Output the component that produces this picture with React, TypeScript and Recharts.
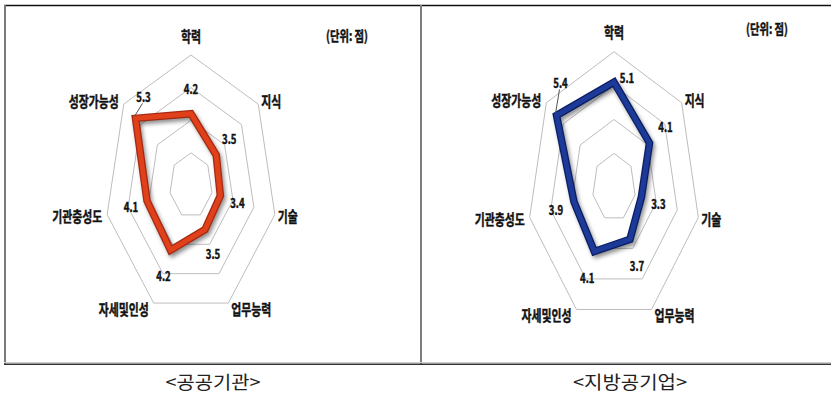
import React from 'react';
import { RadarChart, Radar, PolarAngleAxis, PolarRadiusAxis } from 'recharts';

// Competency categories, clockwise from the top
const categories = ['학력', '지식', '기술', '업무능력', '자세및인성', '기관충성도', '성장가능성'];

// Scores per organisation type
const publicScores = [4.2, 3.5, 3.4, 3.5, 4.2, 4.1, 5.3];
const localScores = [5.1, 4.1, 3.3, 3.7, 4.1, 3.9, 5.4];

// Radial scale and its grid rings
const scoreDomain: [number, number] = [2, 6];
const gridLevels = [3, 4, 5, 6];

const unitLabel = '(단위: 점)';
const captions = ['<공공기관>', '<지방공기업>'];

// Value-label nudges (px) from each vertex; the last one hangs on a leader line
const publicLabelNudge: [number, number][] = [[0, -25], [13, -16], [17, 7], [8, 24], [-7, 25], [-16, 6], [8, -22]];
const localLabelNudge: [number, number][] = [[13, -5], [16, -16], [17, 6], [7, 26], [-7, 26], [-18, 8], [4, -33]];
const leaderIndex = 6;

const KR = "'Noto Sans CJK KR', 'Noto Sans', sans-serif";

type Cfg = {
  id: string;
  left: number;
  width: number;
  cx: number;
  cy: number;
  R: number;
  k: number; // horizontal squeeze of the polar plane
  color: string;
  edge: string;
  nudge: [number, number][];
  unitX: number;
  unitY: number;
};

const panels: Cfg[] = [
  {
    id: 'pub', left: 0, width: 420, cx: 191, cy: 185.5, R: 130.5, k: 86 / 130.5,
    color: '#E0401A', edge: '#A52810', nudge: publicLabelNudge, unitX: 347, unitY: 35,
  },
  {
    id: 'loc', left: 421, width: 410, cx: 193, cy: 187.3, R: 135.6, k: 86.5 / 135.6,
    color: '#1D3A98', edge: '#0A1D63', nudge: localLabelNudge, unitX: 346, unitY: 28,
  },
];

const buildRows = (scores: number[]) =>
  categories.map((axis, i) => {
    const row: Record<string, string | number> = { axis, score: scores[i] };
    gridLevels.forEach((lv) => {
      row[`g${lv}`] = lv;
    });
    return row;
  });

const squeeze = (x: number, cx: number, k: number) => cx + (x - cx) * k;

const ringShape = (cfg: Cfg) => (props: any) => {
  const pts = (props.points || [])
    .map((p: any) => `${squeeze(p.x, p.cx ?? cfg.cx, cfg.k)},${p.y}`)
    .join(' ');
  return <polygon points={pts} fill="none" stroke="#bdbdbd" strokeWidth={1} />;
};

const boldText = { fill: '#111', stroke: '#111', strokeWidth: 0.45, paintOrder: 'stroke' } as const;

const scoreShape = (cfg: Cfg) => (props: any) => {
  const raw = props.points || [];
  const pts = raw.map((p: any) => ({
    x: squeeze(p.x, p.cx ?? cfg.cx, cfg.k),
    y: p.y,
    value: p.value,
  }));
  const d = pts.map((p: any) => `${p.x},${p.y}`).join(' ');
  const fid = `shadow-${cfg.id}`;
  return (
    <g>
      <defs>
        <filter id={fid} x="-20%" y="-20%" width="140%" height="140%">
          <feGaussianBlur stdDeviation="2" />
        </filter>
      </defs>
      <polygon
        points={d}
        fill="none"
        stroke="rgba(0,0,0,0.45)"
        strokeWidth={7}
        transform="translate(2,3)"
        filter={`url(#${fid})`}
      />
      <polygon points={d} fill="none" stroke={cfg.edge} strokeWidth={7.5} strokeLinejoin="miter" />
      <polygon points={d} fill="none" stroke={cfg.color} strokeWidth={5} strokeLinejoin="miter" />
      {pts.map((p: any, i: number) => {
        const [nx, ny] = cfg.nudge[i] || [0, 0];
        const lx = p.x + nx;
        const ly = p.y + ny;
        const txt = Number(p.value).toFixed(1);
        return (
          <g key={`lab-${i}`}>
            {i === leaderIndex && (
              <line x1={p.x - 1} y1={p.y - 2} x2={lx - 1} y2={ly + 7} stroke="#555" strokeWidth={1} />
            )}
            <text
              x={lx}
              y={ly}
              textAnchor="middle"
              dominantBaseline="central"
              fontFamily={KR}
              fontWeight={700}
              fontSize={13}
              {...boldText}
              textLength={txt.length * 4.8}
              lengthAdjust="spacingAndGlyphs"
            >
              {txt}
            </text>
          </g>
        );
      })}
    </g>
  );
};

const angleTick = (cfg: Cfg) => (props: any) => {
  const { x, y, payload } = props;
  const dx = x - cfg.cx;
  const dy = y - cfg.cy;
  const len = Math.hypot(dx, dy) || 1;
  const ux = dx / len;
  const uy = dy / len;
  const vx = cfg.cx + ux * cfg.R * cfg.k;
  const vy = cfg.cy + uy * cfg.R;
  let anchor: 'start' | 'middle' | 'end' = 'middle';
  let tx = vx;
  let ty = vy + uy * 6;
  if (ux > 0.1) {
    anchor = 'start';
    tx = vx + 3;
  } else if (ux < -0.1) {
    anchor = 'end';
    tx = vx - 5;
  } else {
    ty = vy - 20;
  }
  const text = String(payload.value);
  return (
    <text
      x={tx}
      y={ty}
      textAnchor={anchor}
      dominantBaseline="central"
      fontFamily={KR}
      fontWeight={700}
      fontSize={15}
      {...boldText}
      textLength={text.length * 10}
      lengthAdjust="spacingAndGlyphs"
    >
      {text}
    </text>
  );
};

const Panel = ({ cfg, scores }: { cfg: Cfg; scores: number[] }) => {
  const rows = buildRows(scores);
  return (
    <div style={{ position: 'absolute', left: cfg.left, top: 0, width: cfg.width, height: 362 }}>
      <RadarChart
        width={cfg.width}
        height={362}
        data={rows}
        cx={cfg.cx}
        cy={cfg.cy}
        outerRadius={cfg.R}
        margin={{ top: 0, right: 0, bottom: 0, left: 0 }}
      >
        <PolarRadiusAxis domain={scoreDomain} tickCount={5} tick={false} axisLine={false} />
        <PolarAngleAxis dataKey="axis" tick={angleTick(cfg)} tickLine={false} axisLine={false} />
        {gridLevels.map((lv) => (
          <Radar
            key={`ring-${lv}`}
            dataKey={`g${lv}`}
            shape={ringShape(cfg)}
            isAnimationActive={false}
            legendType="none"
          />
        ))}
        <Radar dataKey="score" shape={scoreShape(cfg)} isAnimationActive={false} />
      </RadarChart>
      <svg
        width={cfg.width}
        height={362}
        style={{ position: 'absolute', left: 0, top: 0, pointerEvents: 'none' }}
      >
        <text
          x={cfg.unitX}
          y={cfg.unitY}
          textAnchor="middle"
          dominantBaseline="central"
          fontFamily={KR}
          fontWeight={700}
          fontSize={14}
          {...boldText}
          textLength={42}
          lengthAdjust="spacingAndGlyphs"
        >
          {unitLabel}
        </text>
      </svg>
    </div>
  );
};

export default function App() {
  return (
    <div
      style={{
        position: 'absolute',
        left: 0,
        top: 0,
        width: 831,
        height: 394,
        background: '#fff',
        overflow: 'hidden',
      }}
    >
      <svg width={831} height={394} style={{ position: 'absolute', left: 0, top: 0 }}>
        <line x1={4} y1={5.5} x2={831} y2={5.5} stroke="#111" strokeWidth={1.6} />
        <line x1={5} y1={5} x2={5} y2={364} stroke="#7a7a7a" strokeWidth={2} />
        <line x1={421} y1={5} x2={421} y2={364} stroke="#7d7d7d" strokeWidth={2} />
        <line x1={4} y1={362.5} x2={831} y2={362.5} stroke="#cfcfcf" strokeWidth={1} />
        <line x1={4} y1={364.2} x2={831} y2={364.2} stroke="#333" strokeWidth={1.5} />
        <text
          x={213}
          y={380.5}
          textAnchor="middle"
          dominantBaseline="central"
          fontFamily={KR}
          fontSize={18}
          fill="#222"
          textLength={95}
          lengthAdjust="spacingAndGlyphs"
        >
          {captions[0]}
        </text>
        <text
          x={630}
          y={380.5}
          textAnchor="middle"
          dominantBaseline="central"
          fontFamily={KR}
          fontSize={18}
          fill="#222"
          textLength={114}
          lengthAdjust="spacingAndGlyphs"
        >
          {captions[1]}
        </text>
      </svg>
      <Panel cfg={panels[0]} scores={publicScores} />
      <Panel cfg={panels[1]} scores={localScores} />
    </div>
  );
}
